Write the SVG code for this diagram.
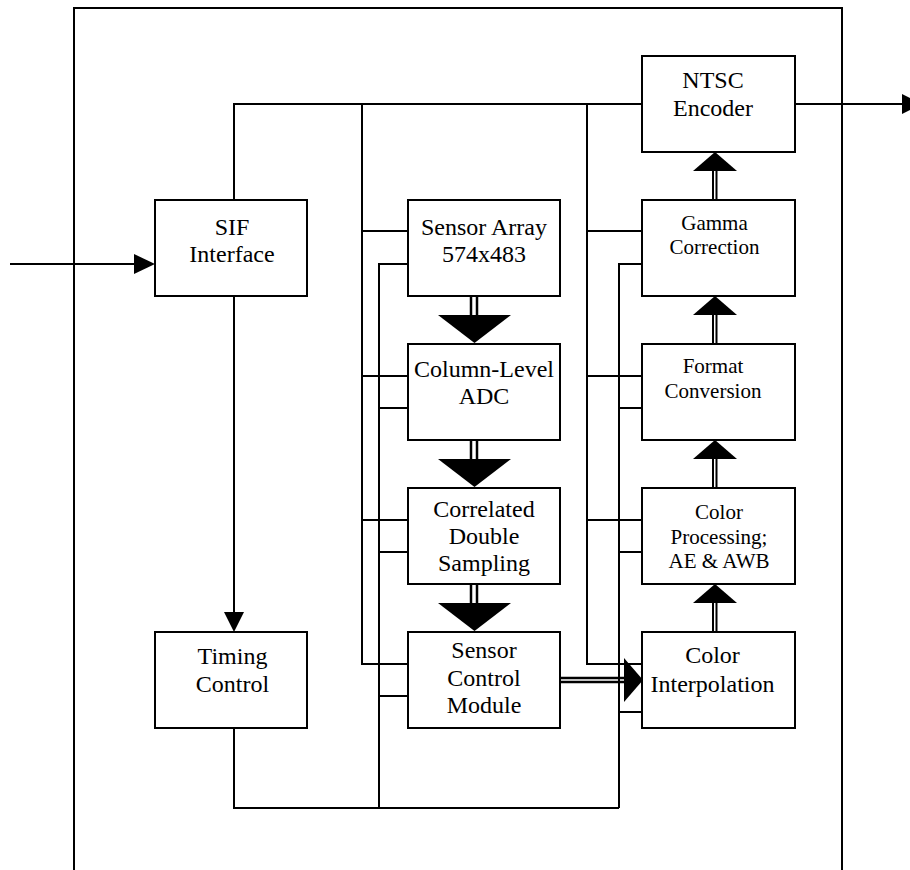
<svg xmlns="http://www.w3.org/2000/svg" width="910" height="870" viewBox="0 0 910 870">
<style>
.box{fill:#fff;stroke:#000;stroke-width:2}
.ln{fill:none;stroke:#000;stroke-width:2}
.dl{fill:none;stroke:#000;stroke-width:2.5}
.sl{fill:none;stroke:#000;stroke-width:2}
.hd{fill:#000;stroke:none}
text{font-family:"Liberation Serif","Times New Roman",serif;fill:#000;text-anchor:middle}
.t24{font-size:24px}
.t21{font-size:21px}
</style>
<rect width="910" height="870" fill="#fff"/>
<path class="ln" d="M74,870 V8 H842 V870"/>
<g id="connectors">
  <path class="ln" d="M10,264 H136"/>
  <polygon class="hd" points="134,254 155,264 134,274"/>
  <path class="ln" d="M795,104 H904"/>
  <polygon class="hd" points="902,94 922,104 902,114"/>
  <path class="ln" d="M234,200 V104 H642"/>
  <path class="ln" d="M234,296 V614"/>
  <polygon class="hd" points="224,612 244,612 234,632"/>
  <path class="ln" d="M362,104 V664 H408 M362,231 H408 M362,376 H408 M362,520 H408"/>
  <path class="ln" d="M408,264 H379 V808 M379,408 H408 M379,552 H408 M379,696 H408"/>
  <path class="ln" d="M587,104 V664 H642 M587,231 H642 M587,376 H642 M587,520 H642"/>
  <path class="ln" d="M642,264 H619 V808 M619,408 H642 M619,552 H642 M619,712 H642"/>
  <path class="ln" d="M234,728 V808 H619"/>
  <path class="dl" d="M471,296 V316 M477,296 V316"/>
  <polygon class="hd" points="438,315 511,315 474.5,343"/>
  <path class="dl" d="M471,440 V460 M477,440 V460"/>
  <polygon class="hd" points="438,459 511,459 474.5,487"/>
  <path class="dl" d="M471,584 V604 M477,584 V604"/>
  <polygon class="hd" points="438,603 511,603 474.5,631"/>
  <path class="sl" d="M713,170 V200 M716.5,170 V200"/>
  <polygon class="hd" points="693,171 737,171 715,152"/>
  <path class="sl" d="M713,314 V344 M716.5,314 V344"/>
  <polygon class="hd" points="693,315 737,315 715,296"/>
  <path class="sl" d="M713,458 V488 M716.5,458 V488"/>
  <polygon class="hd" points="693,459 737,459 715,440"/>
  <path class="sl" d="M713,602 V632 M716.5,602 V632"/>
  <polygon class="hd" points="693,603 737,603 715,584"/>
  <path class="dl" d="M560,678 H626 M560,682 H626"/>
  <polygon class="hd" points="624,658 624,702 643,680"/>
</g>
<g id="sif">
  <rect class="box" x="155" y="200" width="152" height="96"/>
  <text class="t24" x="232" y="235">SIF</text>
  <text class="t24" x="232" y="262">Interface</text>
</g>
<g id="timing">
  <rect class="box" x="155" y="632" width="152" height="96"/>
  <text class="t24" x="232.5" y="664">Timing</text>
  <text class="t24" x="232.5" y="692">Control</text>
</g>
<g id="sensor-array">
  <rect class="box" x="408" y="200" width="152" height="96"/>
  <text class="t24" x="484" y="235">Sensor Array</text>
  <text class="t24" x="484" y="262">574x483</text>
</g>
<g id="adc">
  <rect class="box" x="408" y="344" width="152" height="96"/>
  <text class="t24" x="484" y="377">Column-Level</text>
  <text class="t24" x="484" y="404">ADC</text>
</g>
<g id="cds">
  <rect class="box" x="408" y="488" width="152" height="96"/>
  <text class="t24" x="484" y="517">Correlated</text>
  <text class="t24" x="484" y="544">Double</text>
  <text class="t24" x="484" y="571">Sampling</text>
</g>
<g id="scm">
  <rect class="box" x="408" y="632" width="152" height="96"/>
  <text class="t24" x="484" y="658">Sensor</text>
  <text class="t24" x="484" y="686">Control</text>
  <text class="t24" x="484" y="713">Module</text>
</g>
<g id="ntsc">
  <rect class="box" x="642" y="56" width="153" height="96"/>
  <text class="t24" x="713" y="88">NTSC</text>
  <text class="t24" x="713" y="116">Encoder</text>
</g>
<g id="gamma">
  <rect class="box" x="642" y="200" width="153" height="96"/>
  <text class="t21" x="714.5" y="230">Gamma</text>
  <text class="t21" x="714.5" y="254">Correction</text>
</g>
<g id="format">
  <rect class="box" x="642" y="344" width="153" height="96"/>
  <text class="t21" x="713" y="373">Format</text>
  <text class="t21" x="713" y="398">Conversion</text>
</g>
<g id="color-processing">
  <rect class="box" x="642" y="488" width="153" height="96"/>
  <text class="t21" x="719" y="519">Color</text>
  <text class="t21" x="719" y="544">Processing;</text>
  <text class="t21" x="719" y="568">AE &amp; AWB</text>
</g>
<g id="color-interpolation">
  <rect class="box" x="642" y="632" width="153" height="96"/>
  <text class="t24" x="712.5" y="663">Color</text>
  <text class="t24" x="712.5" y="692">Interpolation</text>
</g>
</svg>
